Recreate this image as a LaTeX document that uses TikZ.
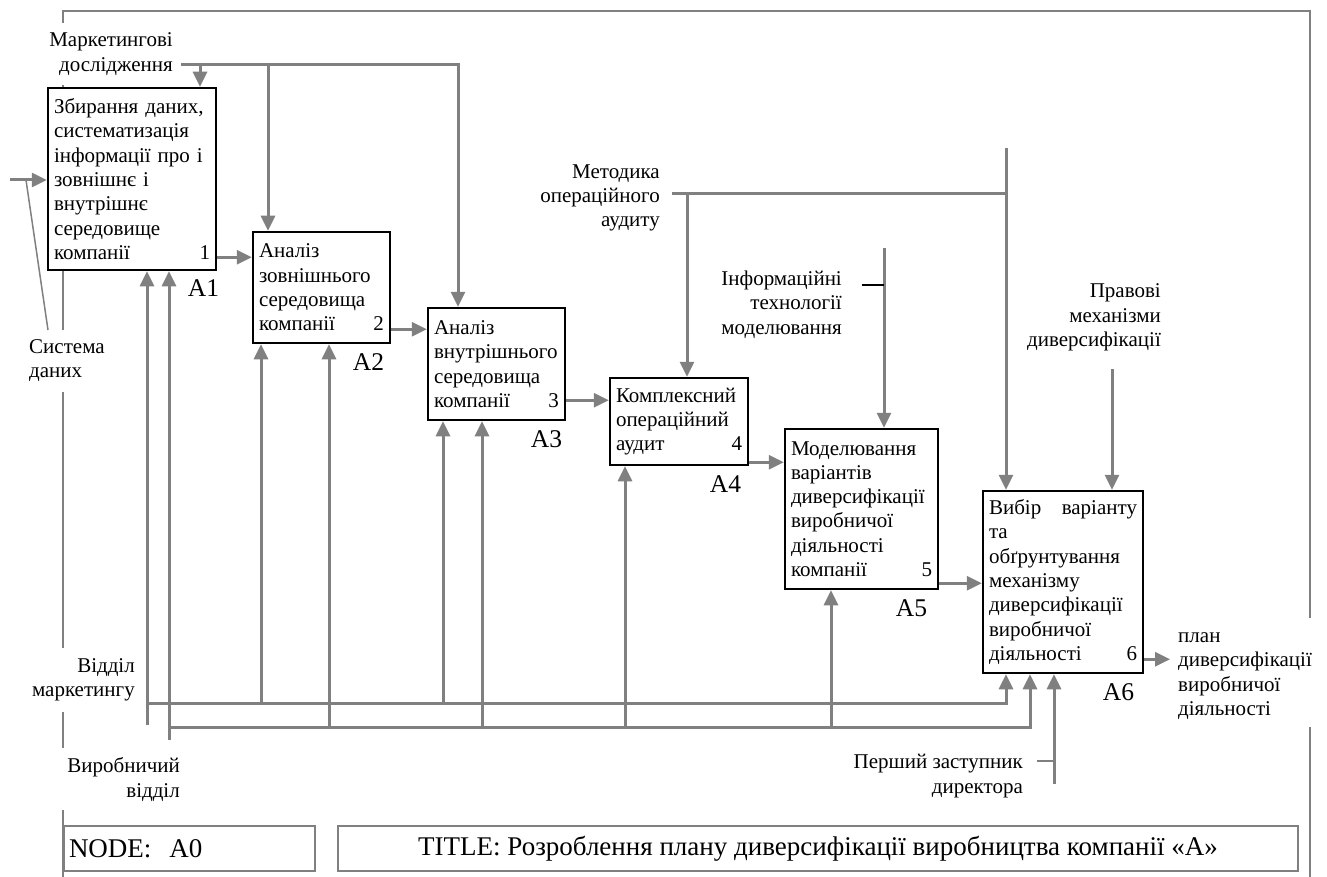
\documentclass[tikz,border=0pt]{standalone}
\usepackage{fontspec}
\setmainfont{Liberation Serif}
\usetikzlibrary{positioning, arrows.meta}
\definecolor{idefgray}{RGB}{128,128,128}
\newcommand{\bodyfont}{\fontsize{21}{24.3}\selectfont}
\newcommand{\numgap}{\hskip 0pt plus 1fill\relax}

\begin{document}
\begin{tikzpicture}[x=1pt, y=-1pt,
  proc/.style={draw, line width=2.5pt, fill=white, inner xsep=6pt, inner ysep=0pt, align=left, font=\bodyfont},
  lbl/.style={inner sep=0pt, font=\bodyfont},
  alabel/.style={inner sep=0pt, font=\fontsize{25.5}{30}\selectfont},
  infobox/.style={draw=idefgray, line width=2pt, inner xsep=5pt, inner ysep=0pt, font=\fontsize{27}{32}\selectfont},
  flow/.style={draw=idefgray, line width=3pt, -{Triangle[length=15pt, width=14pt]}},
  link/.style={draw=idefgray, line width=3pt},
  thinlink/.style={draw=idefgray, line width=1.5pt},
  frame/.style={draw=idefgray, line width=2pt}]
\useasboundingbox (0,0) rectangle (1327,877);

% frame
\draw[frame] (63,23) -- (63,11) -- (1310,11) -- (1310,618);
\draw[frame] (1310,727) -- (1310,877);
\foreach \a/\b in {85/330, 392/648, 712/748, 810/877}
  \draw[frame] (63,\a) -- (63,\b);

% activities
\node[proc, text width=156pt, minimum height=182pt] (A1) at (132,179)
  {Збирання даних,\\систематизація\\інформації про і\\зовнішнє і\\внутрішнє\\середовище\\компанії\numgap 1};
\node[proc, text width=125pt, minimum height=111pt] (A2) at (321.5,287.5)
  {Аналіз\\зовнішнього\\середовища\\компанії\numgap 2};
\node[proc, text width=125pt, minimum height=112pt] (A3) at (496.5,364)
  {Аналіз\\внутрішнього\\середовища\\компанії\numgap 3};
\node[proc, text width=126pt, minimum height=87pt] (A4) at (679,421.5)
  {Комплексний\\операційний\\аудит\numgap 4};
\node[proc, text width=141pt, minimum height=160pt] (A5) at (861.5,509)
  {Моделювання\\варіантів\\диверсифікації\\виробничої\\діяльності\\компанії\numgap 5};
\node[proc, text width=148pt, minimum height=182pt] (A6) at (1063,582)
  {Вибір\numgap варіанту\\та\\обґрунтування\\механізму\\диверсифікації\\виробничої\\діяльності\numgap 6};

\node[alabel, below left=8pt and -2pt of A1.south east] (A1n) {A1};
\node[alabel, below left=9pt and 7pt of A2.south east] (A2n) {A2};
\node[alabel, below left=9pt and 4pt of A3.south east] (A3n) {A3};
\node[alabel, below left=9pt and 8pt of A4.south east] (A4n) {A4};
\node[alabel, below left=9pt and 12pt of A5.south east] (A5n) {A5};
\node[alabel, below left=9pt and 10pt of A6.south east] (A6n) {A6};

% outer labels
\node[lbl, align=right, anchor=east] (mrk) at (173,54) {Маркетингові\\дослідження};
\node[lbl, align=left, anchor=west] (sys) at (29,360.5) {Система\\даних};
\node[lbl, align=right, anchor=east] (met) at (660,198) {Методика\\операційного\\аудиту};
\node[lbl, align=right, anchor=east] (inf) at (842,304.5) {Інформаційні\\технології\\моделювання};
\node[lbl, align=right, anchor=east] (prav) at (1161,317.5) {Правові\\механізми\\диверсифікації};
\node[lbl, align=left, anchor=west, inner xsep=8pt] (plan) at (1170,676) {план\\диверсифікації\\виробничої\\діяльності};
\node[lbl, align=right, anchor=east] (vmk) at (135,680) {Відділ\\маркетингу};
\node[lbl, align=right, anchor=east] (vyr) at (180,779.5) {Виробничий\\відділ};
\node[lbl, align=right, anchor=east] (pz) at (1023,776) {Перший заступник\\директора};

% inputs
\coordinate (inp) at (10,180);
\draw[flow] (inp) -- (inp -| A1.west);
\coordinate (sysa) at (26,180);
\coordinate (sysb) at (48,330);
\draw[thinlink] (sysb) -- (sysa);

% outputs
\path ([yshift=14pt]A1.south east) coordinate (o1);
\path ([yshift=15pt]A2.south east) coordinate (o2);
\path ([yshift=21pt]A3.south east) coordinate (o3);
\path ([yshift=4pt]A4.south east) coordinate (o4);
\path ([yshift=7pt]A5.south east) coordinate (o5);
\path ([yshift=15pt]A6.south east) coordinate (o6);
\draw[flow] (o1) -- (o1 -| A2.west);
\draw[flow] (o2) -- (o2 -| A3.west);
\draw[flow] (o3) -- (o3 -| A4.west);
\draw[flow] (o4) -- (o4 -| A5.west);
\draw[flow] (o5) -- (o5 -| A6.west);
\draw[flow] (o6) -- (o6 -| plan.west);

% controls
\coordinate (mrk0) at (181,65);
\coordinate (mrk1) at (200,65);
\coordinate (mrk2) at (268,65);
\coordinate (mrk3) at (458,65);
\draw[flow] (mrk0) -- (mrk3) -- (mrk3 |- A3.north);
\draw[flow] (mrk1) -- (mrk1 |- A1.north);
\draw[flow] (mrk2) -- (mrk2 |- A2.north);

\coordinate (met0) at (672,194);
\coordinate (met1) at (687,194);
\coordinate (met2) at (1006,194);
\coordinate (met3) at (1006,148);
\draw[link] (met0) -- (met2);
\draw[flow] (met1) -- (met1 |- A4.north);
\draw[flow] (met3) -- (met3 |- A6.north);

\coordinate (inf0) at (884,248);
\coordinate (inf1) at (862,285);
\coordinate (inf2) at (884,285);
\draw[flow] (inf0) -- (inf0 |- A5.north);
\draw[draw=black, line width=2pt] (inf1) -- (inf2);

\coordinate (prav0) at (1112,369);
\draw[flow] (prav0) -- (prav0 |- A6.north);

% mechanisms
\coordinate (mk0) at (147,725);
\coordinate (mkL) at (147,703);
\coordinate (mkR) at (1006,703);
\draw[flow] (mk0) -- (mk0 |- A1.south);
\draw[flow] (mkL) -- (mkR) -- (mkR |- A6.south);
\foreach \x/\b in {261/A2, 443/A3} {
  \coordinate (t) at (\x,703);
  \draw[flow] (t) -- (t |- \b.south);
}

\coordinate (pr0) at (169,740);
\coordinate (prL) at (169,727);
\coordinate (prR) at (1030,727);
\draw[flow] (pr0) -- (pr0 |- A1.south);
\draw[flow] (prL) -- (prR) -- (prR |- A6.south);
\foreach \x/\b in {329/A2, 482/A3, 625/A4, 831/A5} {
  \coordinate (t) at (\x,727);
  \draw[flow] (t) -- (t |- \b.south);
}

\coordinate (pz0) at (1054,784);
\coordinate (pz1) at (1037,761);
\coordinate (pz2) at (1054,761);
\draw[flow] (pz0) -- (pz0 |- A6.south);
\draw[thinlink] (pz1) -- (pz2);

% node and title
\node[infobox, text width=241pt, minimum height=45pt, anchor=north west, align=left] (nodebox) at (63,825) {NODE:\ \ A0};
\node[infobox, minimum width=960pt, minimum height=45pt, anchor=north west] (titlebox) at (337,825)
  {TITLE: Розроблення плану диверсифікації виробництва компанії «А»};
\end{tikzpicture}
\end{document}
